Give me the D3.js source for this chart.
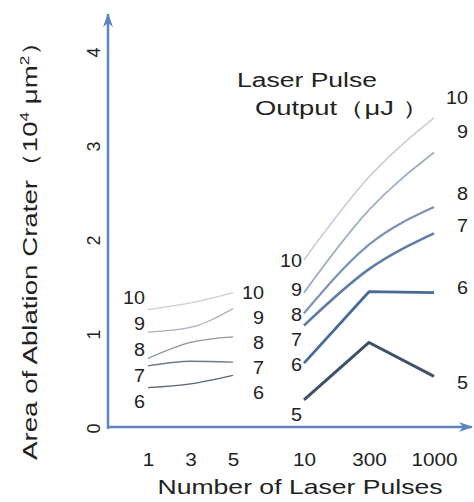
<!DOCTYPE html>
<html>
<head>
<meta charset="utf-8">
<script src="https://cdn.jsdelivr.net/npm/d3@7"></script>
<style>
  body { margin: 0; background: #fff; }
  text { font-family: "Liberation Sans", Arial, sans-serif; fill: #222; }
</style>
</head>
<body>
<div id="chart"></div>
<script>
// values
const leftPulses = ["1", "3", "5"];
const rightPulses = ["10", "300", "1000"];
const leftOutputs = [10, 9, 8, 7, 6];
const rightOutputs = [10, 9, 8, 7, 6, 5];
// area (10^4 um^2) per output, one value per pulse count
const leftArea = [
  [1.26, 1.33, 1.44],
  [1.02, 1.07, 1.27],
  [0.74, 0.91, 0.97],
  [0.66, 0.71, 0.70],
  [0.43, 0.47, 0.56]
];
const rightArea = [
  [1.79, 2.67, 3.30],
  [1.44, 2.32, 2.93],
  [1.22, 1.95, 2.35],
  [1.09, 1.69, 2.07],
  [0.69, 1.45, 1.44],
  [0.30, 0.91, 0.55]
];
const yTicks = [0, 1, 2, 3, 4];

const width = 474, height = 502;
const axisColor = "#5b84c0";

const svg = d3.select("#chart").append("svg")
    .attr("width", width)
    .attr("height", height);

// scales
const y = d3.scaleLinear().domain([0, 4]).range([428, 52]);
const xL = d3.scalePoint().domain(leftPulses).range([148, 233]);
const xR = d3.scalePoint().domain(rightPulses).range([304, 434]);

const leftColor = d3.scaleOrdinal().domain(leftOutputs)
    .range(["#c9cdd4", "#a9b0bb", "#8c95a3", "#6f7987", "#5b6573"]);
const rightColor = d3.scaleOrdinal().domain(rightOutputs)
    .range(["#c0c9d7", "#9dafc7", "#7b93b5", "#5e7ca6", "#466b98", "#3f5169"]);
const rightWidth = d3.scaleOrdinal().domain(rightOutputs)
    .range([1.4, 1.8, 2.2, 2.5, 2.8, 3]);

function stretch(sel, k) {
  sel.each(function() {
    const w = this.getComputedTextLength();
    d3.select(this).attr("textLength", w * k).attr("lengthAdjust", "spacingAndGlyphs");
  });
}

// arrow marker
svg.append("defs").append("marker")
    .attr("id", "arrow")
    .attr("viewBox", "0 0 14 10")
    .attr("refX", 13).attr("refY", 5)
    .attr("markerWidth", 14).attr("markerHeight", 10)
    .attr("markerUnits", "userSpaceOnUse")
    .attr("orient", "auto")
  .append("path")
    .attr("d", "M0,0 L14,5 L0,10 L4,5 z")
    .attr("fill", axisColor);

// axis lines
svg.append("line")
    .attr("x1", 108).attr("y1", y(0) + 1)
    .attr("x2", 108).attr("y2", 14)
    .attr("stroke", axisColor).attr("stroke-width", 2.5)
    .attr("marker-end", "url(#arrow)");
svg.append("line")
    .attr("x1", 107).attr("y1", y(0) - 1)
    .attr("x2", 472).attr("y2", y(0) - 1)
    .attr("stroke", axisColor).attr("stroke-width", 2.5)
    .attr("marker-end", "url(#arrow)");

// y tick labels (rotated)
const yAxis = svg.append("g")
    .attr("transform", "translate(100,0)")
    .call(d3.axisLeft(y).tickValues(yTicks).tickFormat(d3.format("d")).tickSize(0));
yAxis.select(".domain").remove();
yAxis.selectAll("text")
    .attr("x", 0).attr("dy", 0)
    .attr("text-anchor", "middle")
    .attr("transform", "rotate(-90)")
    .style("font-family", "Liberation Sans, Arial, sans-serif")
    .attr("font-size", 18)
    .attr("fill", "#222");

// x tick labels
[xL, xR].forEach(sc => {
  const g = svg.append("g")
      .attr("transform", "translate(0,466)")
      .call(d3.axisBottom(sc).tickSize(0));
  g.select(".domain").remove();
  g.selectAll("text")
      .attr("y", 0).attr("dy", 0)
      .style("font-family", "Liberation Sans, Arial, sans-serif")
      .attr("font-size", 18)
      .attr("fill", "#222")
      .call(stretch, 1.15);
});

// lines
const line = (sc, pulses) => d3.line()
    .x((d, i) => sc(pulses[i]))
    .y(d => y(d));

svg.append("g").selectAll("path")
  .data(leftArea)
  .join("path")
    .attr("fill", "none")
    .attr("stroke", (d, i) => leftColor(leftOutputs[i]))
    .attr("stroke-width", 1.3)
    .attr("d", d => line(xL, leftPulses).curve(d3.curveMonotoneX)(d));

svg.append("g").selectAll("path")
  .data(rightArea)
  .join("path")
    .attr("fill", "none")
    .attr("stroke", (d, i) => rightColor(rightOutputs[i]))
    .attr("stroke-width", (d, i) => rightWidth(rightOutputs[i]))
    .attr("stroke-linejoin", "round")
    .attr("d", (d, i) => line(xR, rightPulses)
        .curve(rightOutputs[i] >= 7 ? d3.curveMonotoneX : d3.curveLinear)(d));

// output labels, pushed apart so they do not overlap
function dodge(vals, gap, offset, nudge) {
  const ys = vals.map(v => y(v));
  for (let i = 1; i < ys.length; i++) ys[i] = Math.max(ys[i], ys[i - 1] + gap);
  return ys.map((v, i) => v + offset + (nudge ? nudge[i] : 0));
}
function labels(outputs, ys, x) {
  svg.append("g").selectAll("text")
    .data(outputs)
    .join("text")
      .attr("x", x)
      .attr("y", (d, i) => ys[i])
      .attr("dy", "0.36em")
      .attr("text-anchor", "end")
      .attr("font-size", 18)
      .text(d => d)
      .call(stretch, 1.1);
}
labels(leftOutputs, dodge(leftArea.map(a => a[0]), 26, -12), xL("1") - 3);
labels(leftOutputs, dodge(leftArea.map(a => a[2]), 25, 0), xL("5") + 31);
labels(rightOutputs, dodge(rightArea.map(a => a[0]), 25, -3, [4, 0, 0, 0, 0, 18]), xR("10") - 2);
labels(rightOutputs, dodge(rightArea.map(a => a[2]), 32, -14, [-6, -7, 0, 0, 9, 20]), xR("1000") + 34);

// legend title
svg.append("text")
    .attr("x", 237).attr("y", 87)
    .attr("font-size", 20)
    .attr("textLength", 140).attr("lengthAdjust", "spacingAndGlyphs")
    .text("Laser Pulse");
svg.append("text")
    .attr("x", 255).attr("y", 115)
    .attr("font-size", 20)
    .attr("textLength", 174).attr("lengthAdjust", "spacingAndGlyphs")
    .text("Output（μJ ）");

// axis titles
svg.append("text")
    .attr("x", 300).attr("y", 494)
    .attr("text-anchor", "middle")
    .attr("font-size", 21)
    .attr("textLength", 285).attr("lengthAdjust", "spacingAndGlyphs")
    .text("Number of Laser Pulses");

const yTitle = svg.append("text")
    .attr("transform", "translate(37,244) rotate(-90)")
    .attr("text-anchor", "middle")
    .attr("font-size", 21)
    .attr("textLength", 432).attr("lengthAdjust", "spacingAndGlyphs");
yTitle.append("tspan").text("Area of Ablation Crater（10");
yTitle.append("tspan").attr("dy", -8).attr("font-size", 13).text("4");
yTitle.append("tspan").attr("dy", 8).text(" μm");
yTitle.append("tspan").attr("dy", -8).attr("font-size", 13).text("2");
yTitle.append("tspan").attr("dy", 8).text("）");
</script>
</body>
</html>
